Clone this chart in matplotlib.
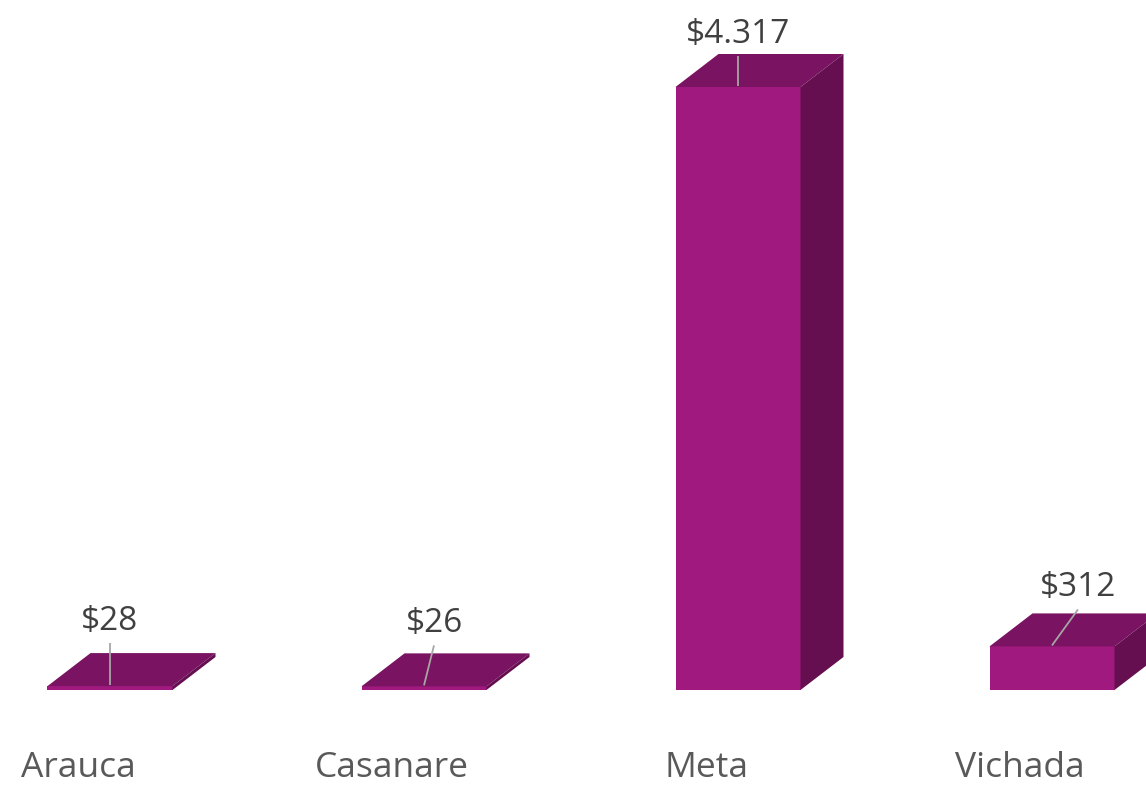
import numpy as np
import matplotlib.pyplot as plt
from matplotlib.patches import Polygon

# data
categories = ['Arauca', 'Casanare', 'Meta', 'Vichada']
values = [28, 26, 4317, 312]
value_labels = ['$28', '$26', '$4.317', '$312']

# colours of the 3d box faces
front_col = '#A0197E'
top_col = '#7A1361'
side_col = '#650F50'

plt.rcParams['font.family'] = ['Open Sans', 'DejaVu Sans']

fig = plt.figure(figsize=(11.46, 7.87), dpi=100)
ax = fig.add_axes([0, 0, 1, 1])

# pixel geometry -> data units
px_per_cat = 314.0
px_per_val = 603.0 / 4317.0
w = 125 / px_per_cat          # bar width
ddx = 43 / px_per_cat         # depth offset x
ddy = 33 / px_per_val         # depth offset y

x = np.arange(len(categories))
for i, v in zip(x, values):
    x0, x1 = i - w / 2, i + w / 2
    ax.add_patch(Polygon([(x0, 0), (x1, 0), (x1, v), (x0, v)],
                         closed=True, fc=front_col, ec='none'))
    ax.add_patch(Polygon([(x0, v), (x1, v), (x1 + ddx, v + ddy), (x0 + ddx, v + ddy)],
                         closed=True, fc=top_col, ec='none'))
    ax.add_patch(Polygon([(x1, 0), (x1 + ddx, ddy), (x1 + ddx, v + ddy), (x1, v)],
                         closed=True, fc=side_col, ec='none'))

# value labels with leader lines (offsets in px, excel placement)
lab_dx = [0, 10, 0, 26]
line_top = [43, 41, 31, 37]
for i, v, t, lx, ly in zip(x, values, value_labels, lab_dx, line_top):
    tx = i + lx / px_per_cat
    ty = v + ly / px_per_val
    ax.plot([tx, i], [ty, v + 1 / px_per_val],
            color='#A6A6A6', lw=1.3, solid_capstyle='butt')
    ax.text(tx, ty + 5 / px_per_val, t, ha='center', va='bottom',
            fontsize=24, color='#404040')

# category labels
for i, c in zip(x, categories):
    ax.text(i - 32 / px_per_cat, -78 / px_per_val, c, ha='center', va='center',
            fontsize=25.5, color='#595959')

ax.set_xlim(-110 / px_per_cat, (1146 - 110) / px_per_cat)
ax.set_ylim(-97 / px_per_val, 690 / px_per_val)
ax.axis('off')

fig.savefig('out.png', dpi=100)
